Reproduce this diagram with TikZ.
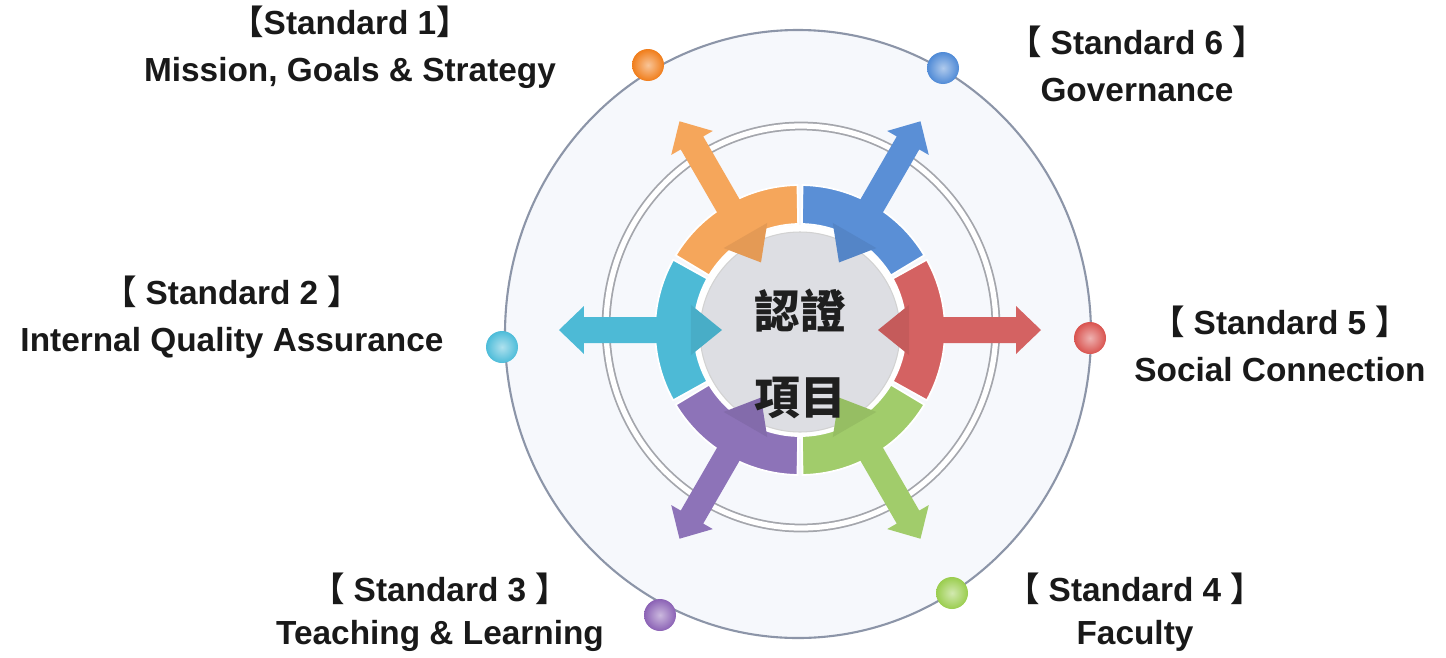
\documentclass[tikz,border=0pt]{standalone}
\usepackage{fontspec}
\setmainfont{Liberation Sans}
\newfontfamily\cjk{Noto Sans CJK TC}
\usetikzlibrary{positioning,calc,shadings}
\definecolor{plate}{HTML}{F6F8FC}
\definecolor{platerim}{HTML}{8C95A8}
\definecolor{ringgray}{HTML}{A4A6AC}
\definecolor{discgray}{HTML}{DDDEE3}
\definecolor{partorange}{HTML}{F5A65B}
\definecolor{partblue}{HTML}{5A8FD6}
\definecolor{partred}{HTML}{D46262}
\definecolor{partgreen}{HTML}{A1CC6B}
\definecolor{partpurple}{HTML}{8D73B8}
\definecolor{partcyan}{HTML}{4DBAD6}
\definecolor{dotorange}{HTML}{F07D1A}
\definecolor{dotblue}{HTML}{4F8AD6}
\definecolor{dotred}{HTML}{D9534F}
\definecolor{dotgreen}{HTML}{9ACD4E}
\definecolor{dotpurple}{HTML}{8B62B5}
\definecolor{dotcyan}{HTML}{4DBCD9}
\newcommand{\openbr}{{\cjk 【}}
\newcommand{\closebr}{{\cjk 】}}
% one coloured part of the ring: band, inner head, outer arrow
\newcommand{\ringpart}[2]{%
  \filldraw[fill=#2, draw=white, line width=1pt]
    (#1-29:106) arc[start angle=#1-29, end angle=#1+29, radius=106]
    -- (#1+29:145) arc[start angle=#1+29, end angle=#1-29, radius=145] -- cycle;
  \fill[#2!93!black] (#1-13:112) -- (#1:78) -- (#1+13:112) -- cycle;
  \fill[#2, rotate=#1] (112,-13) -- (216,-13) -- (216,-24) -- (241,0)
    -- (216,24) -- (216,13) -- (112,13) -- cycle;
}

\begin{document}
\begin{tikzpicture}[x=0.02cm, y=0.02cm, node distance=0.94cm, on grid,
    head/.style={font=\fontsize{19}{23}\selectfont\bfseries, text=black!90,
      text height=0.72em, text depth=0.2em, inner sep=0pt},
    desc/.style={head},
    dot/.style={circle, minimum size=0.64cm, inner sep=0pt, shade, shading=radial,
      inner color=#1!45!white, outer color=#1},
    centertext/.style={font=\cjk\fontsize{26}{30}\selectfont\bfseries, text=black!88,
      text height=0.8em, text depth=0.02em, inner sep=0pt}]

  \useasboundingbox (-800,-327) rectangle (646,330);

  % Plate and double ring
  \filldraw[fill=plate, draw=platerim, line width=1.2pt] (-2,-4) ellipse [x radius=293, y radius=304];
  \draw[ringgray, line width=1pt, double=white, double distance=3pt] (1,3) ellipse [x radius=195, y radius=201];

  % Centre disc
  \fill[white] (0,-2) circle [radius=107];
  \filldraw[fill=discgray, draw=gray!35, line width=0.6pt] (0,-2) circle [radius=100];

  % Coloured parts
  \ringpart{120}{partorange}
  \ringpart{60}{partblue}
  \ringpart{0}{partred}
  \ringpart{-60}{partgreen}
  \ringpart{-120}{partpurple}
  \ringpart{180}{partcyan}

  % Centre text
  \node[centertext] (w1) at (0,8) {認證};
  \node[centertext] (w2) [below=1.72cm of w1] {項目};

  % Dots on the plate
  \node[dot=dotorange] (d1) at (-152,265) {};
  \node[dot=dotcyan] (d2) at (-298,-17) {};
  \node[dot=dotpurple] (d3) at (-140,-285) {};
  \node[dot=dotgreen] (d4) at (152,-263) {};
  \node[dot=dotred] (d5) at (290,-8) {};
  \node[dot=dotblue] (d6) at (143,262) {};

  % Labels
  \node[head] (h1) at (-450,300) {\openbr Standard 1\closebr};
  \node[desc] (t1) [below=of h1] {Mission, Goals \& Strategy};
  \node[head] (h2) at (-568,30) {\openbr\ Standard 2 \closebr};
  \node[desc] (t2) [below=of h2] {Internal Quality Assurance};
  \node[head] (h3) at (-360,-267) {\openbr\ Standard 3 \closebr};
  \node[desc] (t3) [below=0.86cm of h3] {Teaching \& Learning};
  \node[head] (h4) at (335,-267) {\openbr\ Standard 4 \closebr};
  \node[desc] (t4) [below=0.86cm of h4] {Faculty};
  \node[head] (h5) at (480,0) {\openbr\ Standard 5 \closebr};
  \node[desc] (t5) [below=of h5] {Social Connection};
  \node[head] (h6) at (337,280) {\openbr\ Standard 6 \closebr};
  \node[desc] (t6) [below=of h6] {Governance};

\end{tikzpicture}
\end{document}
